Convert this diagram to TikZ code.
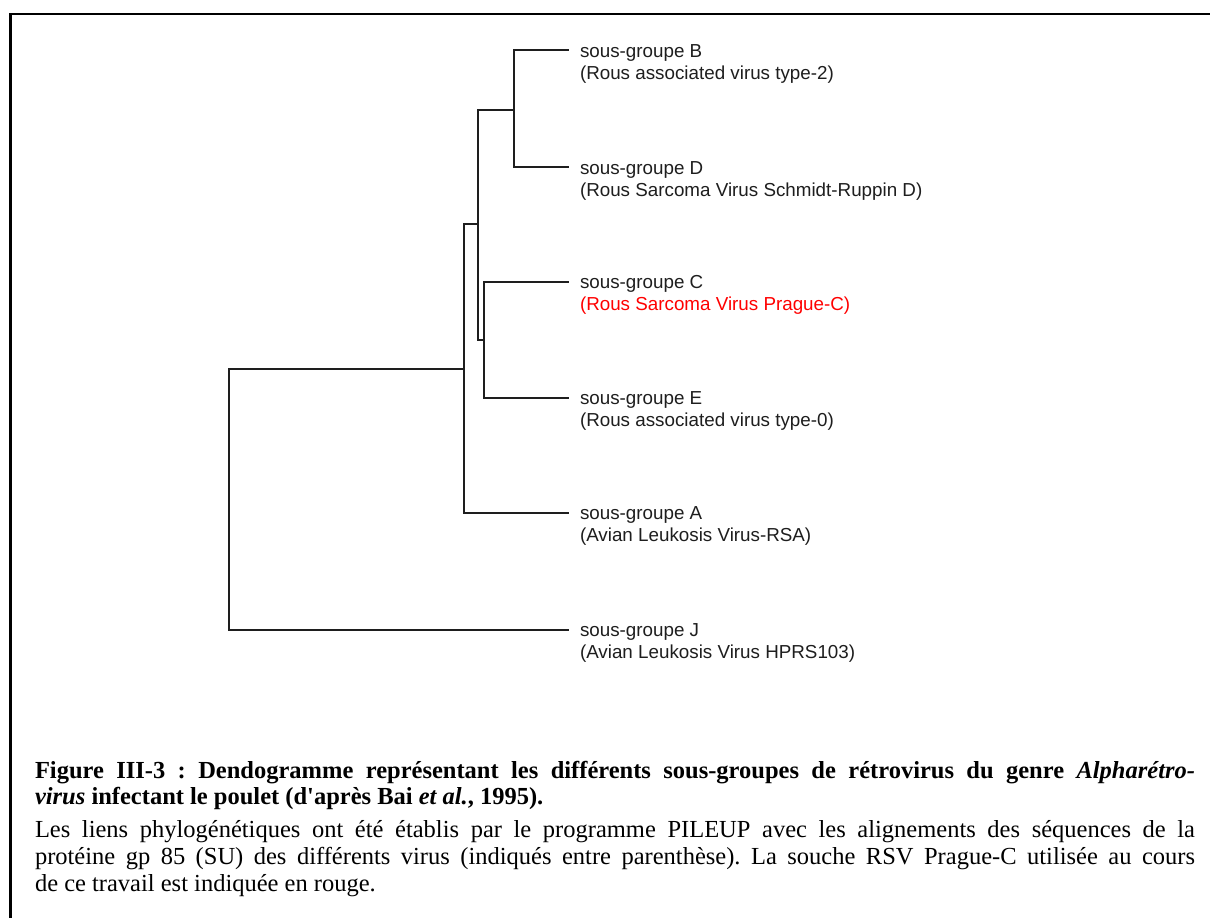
\documentclass[tikz,border=0pt]{standalone}
\usepackage{fontspec}
\setmainfont{Liberation Serif}
\newfontfamily\capserif{Liberation Serif}
\newfontfamily\arialf{Liberation Sans}
\definecolor{treeline}{HTML}{1E1E1E}
\frenchspacing
\begin{document}
\begin{tikzpicture}[x=1pt,y=-1pt,
  branch/.style={draw=treeline,line width=2pt,line join=miter,line cap=rect},
  frameline/.style={draw=black,line width=2.6pt},
  lab/.style={anchor=base west,inner sep=0pt,outer sep=0pt,text=treeline,font=\arialf\fontsize{18.8}{22}\selectfont},
  redlab/.style={lab,text=red},
  captext/.style={anchor=base west,inner sep=0pt,outer sep=0pt,font=\capserif\fontsize{24.5}{31}\selectfont\frenchspacing}]
\useasboundingbox (0,0) rectangle (1210,918);
\fill[white] (0,0) rectangle (1210,918);
% frame
\coordinate (fbl) at (10.6,918);
\coordinate (ftl) at (10.6,14);
\coordinate (ftr) at (1210,14);
\draw[frameline] (fbl) -- (ftl) -- (ftr);
% leaf ends
\coordinate (lB) at (568,50);
\coordinate (lD) at (568,167);
\coordinate (lC) at (568,282);
\coordinate (lE) at (568,398);
\coordinate (lA) at (568,513);
\coordinate (lJ) at (568,630);
% internal junctions
\coordinate (jBD) at (514,110);
\coordinate (jCE) at (484,340);
\coordinate (n2top) at (478,110);
\coordinate (n2bot) at (478,340);
\coordinate (j2) at (478,224);
\coordinate (top1) at (464,224);
\coordinate (j1) at (464,369);
\coordinate (root) at (229,369);
% branches
\draw[branch] (lB) -| (jBD) |- (lD);
\draw[branch] (lC) -| (jCE) |- (lE);
\draw[branch] (jBD) -- (n2top) -- (n2bot) -- (jCE);
\draw[branch] (lA) -| (top1) -- (j2);
\draw[branch] (j1) -- (root) |- (lJ);
% labels
\node[lab] (tB1) at (580,57) {sous-groupe B};
\node[lab] (tB2) at (580,79) {(Rous associated virus type-2)};
\node[lab] (tD1) at (580,174) {sous-groupe D};
\node[lab] (tD2) at (580,196) {(Rous Sarcoma Virus Schmidt-Ruppin D)};
\node[lab] (tC1) at (580,288) {sous-groupe C};
\node[redlab] (tC2) at (580,310) {(Rous Sarcoma Virus Prague-C)};
\node[lab] (tE1) at (580,404) {sous-groupe E};
\node[lab] (tE2) at (580,426) {(Rous associated virus type-0)};
\node[lab] (tA1) at (580,519) {sous-groupe A};
\node[lab] (tA2) at (580,541) {(Avian Leukosis Virus-RSA)};
\node[lab] (tJ1) at (580,636) {sous-groupe J};
\node[lab] (tJ2) at (580,658) {(Avian Leukosis Virus HPRS103)};
% caption
\node[captext] (c1) at (35,778) {\makebox[1160pt][s]{\bfseries Figure III-3 : Dendogramme représentant les différents sous-groupes de rétrovirus du genre \textit{Alpharétro-}}};
\node[captext] (c2) at (35,804) {\bfseries\textit{virus} infectant le poulet (d'après Bai \textit{et al.}, 1995).};
\node[captext] (c3) at (35,837) {\makebox[1160pt][s]{Les liens phylogénétiques ont été établis par le programme PILEUP avec les alignements des séquences de la}};
\node[captext] (c4) at (35,864) {\makebox[1160pt][s]{protéine gp 85 (SU) des différents virus (indiqués entre parenthèse). La souche RSV Prague-C utilisée au cours}};
\node[captext] (c5) at (35,891) {de ce travail est indiquée en rouge.};
\end{tikzpicture}
\end{document}
